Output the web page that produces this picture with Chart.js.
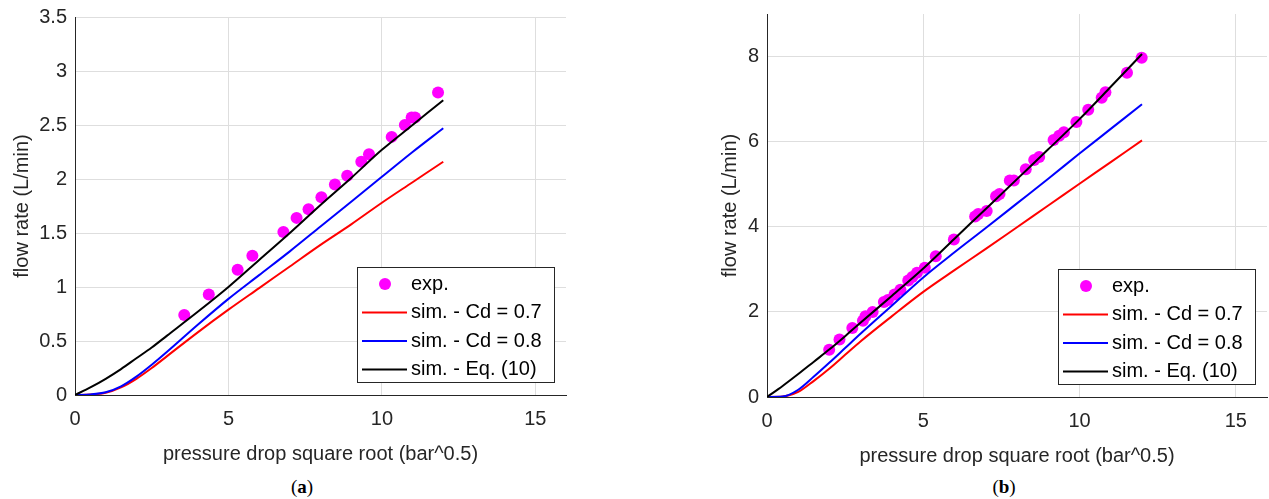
<!DOCTYPE html>
<html>
<head>
<meta charset="utf-8">
<script src="https://cdn.jsdelivr.net/npm/chart.js@4.4.1/dist/chart.umd.min.js"></script>
<style>
  html, body { margin: 0; padding: 0; background: #fff; overflow: hidden; }
  body { width: 1269px; height: 499px; position: relative; }
  canvas { position: absolute; top: 0; }
  #chartA { left: 0; }
  #chartB { left: 708px; }
  .cap { position: absolute; top: 476px; font-family: "Liberation Serif", "Times New Roman", serif; font-size: 19px; color: #000; transform: translateX(-50%); }
</style>
</head>
<body>
<canvas id="chartA" width="572" height="470"></canvas>
<canvas id="chartB" width="565" height="472"></canvas>
<div class="cap" style="left:302px">(<b>a</b>)</div>
<div class="cap" style="left:1004px">(<b>b</b>)</div>
<script>
// x positions of the simulated curves (same for both panels)
const simX = [0, 0.5, 1, 1.5, 2, 2.5, 3, 4, 5, 6, 7, 8, 9, 10, 11, 12];

// panel (a)
const expXa = [3.56, 4.36, 5.30, 5.78, 6.79, 7.22, 7.61, 8.03, 8.47, 8.87, 9.33, 9.58, 10.32, 10.75, 10.97, 11.08, 11.83];
const expYa = [0.74, 0.93, 1.16, 1.29, 1.51, 1.64, 1.72, 1.83, 1.95, 2.03, 2.16, 2.23, 2.39, 2.50, 2.57, 2.57, 2.80];
const cd07a = [0, 0.004, 0.02, 0.07, 0.15, 0.25, 0.36, 0.58, 0.79, 0.99, 1.19, 1.39, 1.58, 1.78, 1.97, 2.16];
const cd08a = [0, 0.005, 0.025, 0.08, 0.17, 0.28, 0.40, 0.65, 0.89, 1.11, 1.33, 1.56, 1.79, 2.02, 2.25, 2.47];
const eq10a = [0, 0.07, 0.15, 0.24, 0.34, 0.44, 0.55, 0.77, 1.00, 1.25, 1.50, 1.76, 2.01, 2.27, 2.50, 2.73];

// panel (b)
const expXb = [1.99, 2.32, 2.73, 3.07, 3.15, 3.38, 3.74, 3.87, 4.08, 4.27, 4.52, 4.65, 4.80, 5.05, 5.40, 5.98, 6.66, 6.76, 7.03, 7.33, 7.44, 7.77, 7.90, 8.28, 8.55, 8.71, 9.17, 9.35, 9.50, 9.90, 10.28, 10.71, 10.83, 11.52, 11.99];
const expYb = [1.11, 1.35, 1.62, 1.79, 1.90, 2.00, 2.23, 2.28, 2.41, 2.52, 2.74, 2.82, 2.92, 3.04, 3.31, 3.70, 4.24, 4.30, 4.37, 4.72, 4.77, 5.09, 5.09, 5.35, 5.57, 5.64, 6.04, 6.14, 6.22, 6.46, 6.75, 7.03, 7.16, 7.62, 7.97];
const cd07b = [0, 0.01, 0.12, 0.38, 0.67, 0.99, 1.31, 1.90, 2.47, 2.98, 3.48, 3.99, 4.50, 5.01, 5.52, 6.03];
const cd08b = [0, 0.01, 0.17, 0.48, 0.81, 1.15, 1.49, 2.15, 2.81, 3.40, 3.97, 4.55, 5.13, 5.72, 6.30, 6.88];
const eq10b = [0, 0.26, 0.54, 0.83, 1.12, 1.43, 1.75, 2.38, 3.02, 3.72, 4.42, 5.12, 5.82, 6.53, 7.29, 8.06];

const xTicks = [0, 5, 10, 15];
const yTicksA = [0, 0.5, 1, 1.5, 2, 2.5, 3, 3.5];
const yTicksB = [0, 2, 4, 6, 8];

const seriesNames = ['exp.', 'sim. - Cd = 0.7', 'sim. - Cd = 0.8', 'sim. - Eq. (10)'];

const font = { family: '"Liberation Sans", Arial, sans-serif', size: 20 };
const ink = '#262626';

// legend box in the lower right corner of the plot area
const boxLegend = {
  id: 'boxLegend',
  afterDraw(chart) {
    const ctx = chart.ctx, area = chart.chartArea;
    const w = 197, h = 115;
    const left = Math.round(area.right - 12 - w), top = Math.round(area.bottom - 13 - h);
    ctx.save();
    ctx.fillStyle = '#fff';
    ctx.fillRect(left, top, w, h);
    ctx.strokeStyle = ink;
    ctx.lineWidth = 1;
    ctx.strokeRect(left + 0.5, top + 0.5, w, h);
    ctx.font = font.size + 'px ' + font.family;
    ctx.textBaseline = 'middle';
    chart.data.datasets.forEach((ds, i) => {
      const y = top + 17 + i * 28.5;
      if (ds.showLine) {
        ctx.strokeStyle = ds.borderColor;
        ctx.lineWidth = 2;
        ctx.beginPath();
        ctx.moveTo(left + 5, y);
        ctx.lineTo(left + 50, y);
        ctx.stroke();
      } else {
        ctx.fillStyle = ds.backgroundColor;
        ctx.beginPath();
        ctx.arc(left + 28, y, 6, 0, Math.PI * 2);
        ctx.fill();
      }
      ctx.fillStyle = '#000';
      ctx.fillText(ds.label, left + 54, y);
    });
    ctx.restore();
  }
};

function pts(xs, ys) {
  return xs.map((x, i) => ({ x: x, y: ys[i] }));
}

function simLine(label, color, ys, order) {
  return {
    label: label,
    data: pts(simX, ys),
    showLine: true,
    borderColor: color,
    borderWidth: 2,
    pointRadius: 0,
    cubicInterpolationMode: 'monotone',
    order: order
  };
}

function makeChart(id, expX, expY, cd07, cd08, eq10, yTicks, yMax, padTop, padRight) {
  return new Chart(document.getElementById(id), {
    type: 'scatter',
    data: {
      datasets: [
        { label: seriesNames[0], data: pts(expX, expY), backgroundColor: '#ff00ff', borderColor: '#ff00ff', pointRadius: 6, pointBorderWidth: 0, order: 4 },
        simLine(seriesNames[1], '#ff0000', cd07, 3),
        simLine(seriesNames[2], '#0000ff', cd08, 2),
        simLine(seriesNames[3], '#000000', eq10, 1)
      ]
    },
    options: {
      responsive: false,
      animation: false,
      layout: { padding: { top: padTop, right: padRight, bottom: 0, left: 0 } },
      plugins: { legend: { display: false }, tooltip: { enabled: false } },
      scales: {
        x: {
          type: 'linear', min: 0, max: 16,
          afterBuildTicks: ax => { ax.ticks = xTicks.map(v => ({ value: v })); },
          afterFit: ax => { ax.height = 75; ax.paddingLeft = 0; ax.paddingRight = 0; },
          grid: { color: '#dedede', drawTicks: false },
          border: { color: ink },
          ticks: { color: ink, font: font, padding: 12, maxRotation: 0, callback: v => String(v) },
          title: { display: true, text: 'pressure drop square root (bar^0.5)', color: ink, font: font, padding: { top: 0, bottom: 4 } }
        },
        y: {
          type: 'linear', min: 0, max: yMax,
          afterBuildTicks: ax => { ax.ticks = yTicks.map(v => ({ value: v })); },
          // fixed axis width and no extra room for the end labels
          afterFit: ax => { ax.width = id === 'chartA' ? 75 : 59; ax.paddingTop = 0; ax.paddingBottom = 0; },
          grid: { color: '#dedede', drawTicks: false },
          border: { color: ink },
          ticks: { color: ink, font: font, padding: 8, callback: v => String(v) },
          title: { display: true, text: 'flow rate (L/min)', color: ink, font: font, padding: { top: 10, bottom: 0 } }
        }
      }
    },
    plugins: [boxLegend]
  });
}

makeChart('chartA', expXa, expYa, cd07a, cd08a, eq10a, yTicksA, 3.5, 17, 5);
makeChart('chartB', expXb, expYb, cd07b, cd08b, eq10b, yTicksB, 9, 14, 2);
</script>
</body>
</html>
